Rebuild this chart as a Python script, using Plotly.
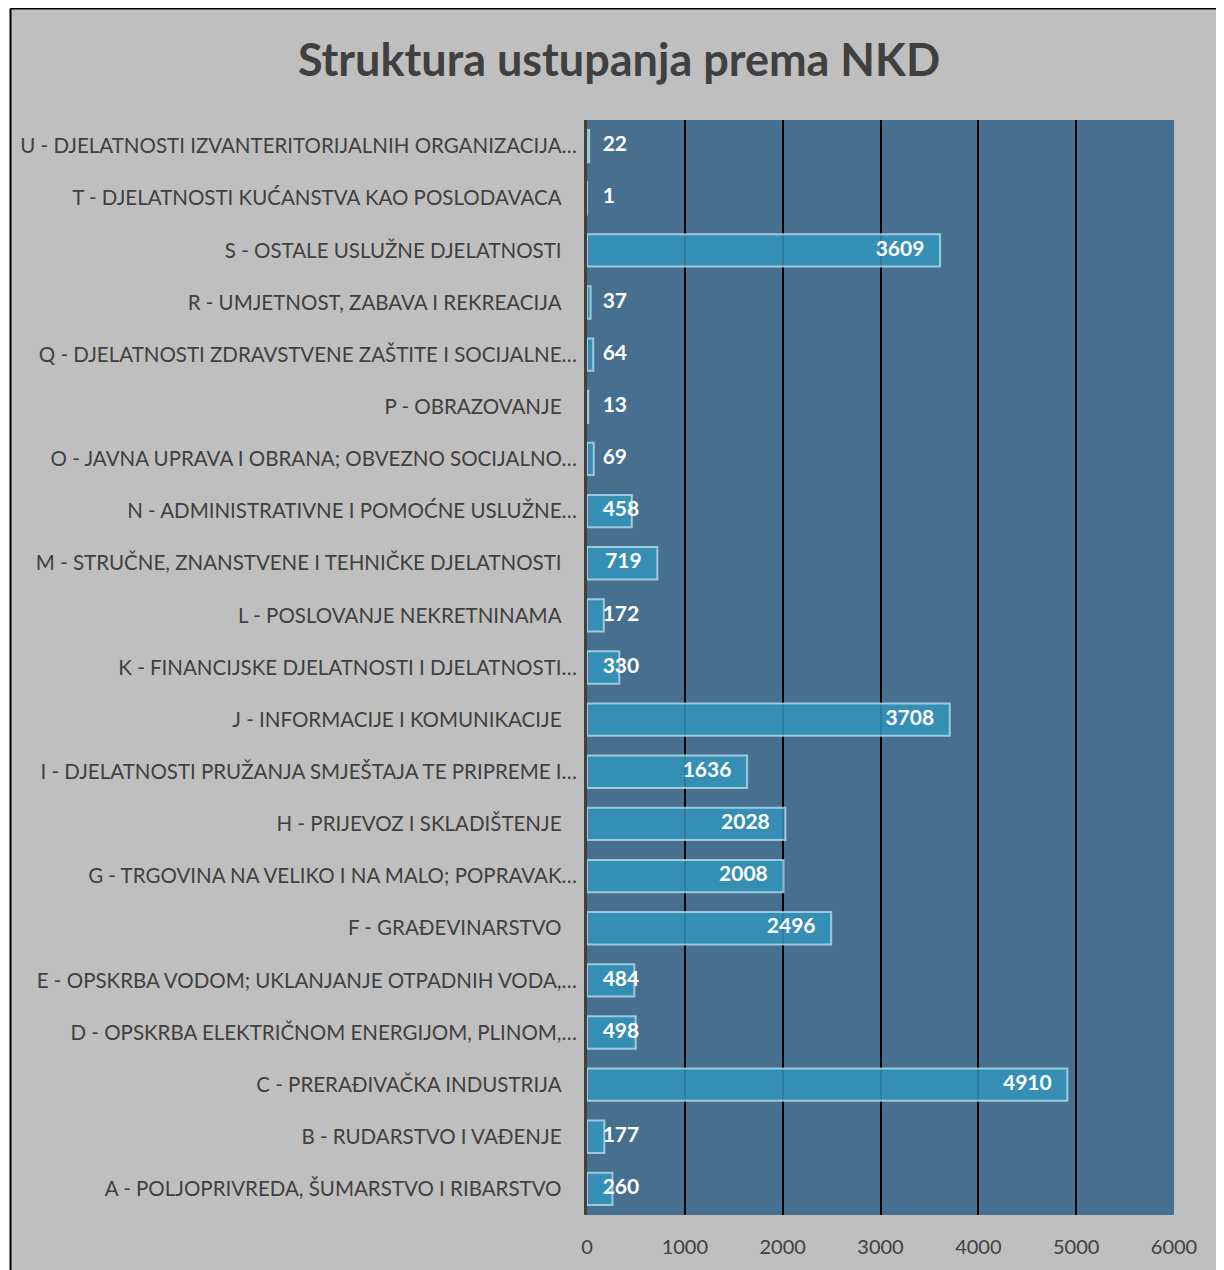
import plotly.graph_objects as go

categories = [
    "A - POLJOPRIVREDA, ŠUMARSTVO I RIBARSTVO",
    "B - RUDARSTVO I VAĐENJE",
    "C - PRERAĐIVAČKA INDUSTRIJA",
    "D - OPSKRBA ELEKTRIČNOM ENERGIJOM, PLINOM,…",
    "E - OPSKRBA VODOM; UKLANJANJE OTPADNIH VODA,…",
    "F - GRAĐEVINARSTVO",
    "G - TRGOVINA NA VELIKO I NA MALO; POPRAVAK…",
    "H - PRIJEVOZ I SKLADIŠTENJE",
    "I - DJELATNOSTI PRUŽANJA SMJEŠTAJA TE PRIPREME I…",
    "J - INFORMACIJE I KOMUNIKACIJE",
    "K - FINANCIJSKE DJELATNOSTI I DJELATNOSTI…",
    "L - POSLOVANJE NEKRETNINAMA",
    "M - STRUČNE, ZNANSTVENE I TEHNIČKE DJELATNOSTI",
    "N - ADMINISTRATIVNE I POMOĆNE USLUŽNE…",
    "O - JAVNA UPRAVA I OBRANA; OBVEZNO SOCIJALNO…",
    "P - OBRAZOVANJE",
    "Q - DJELATNOSTI ZDRAVSTVENE ZAŠTITE I SOCIJALNE…",
    "R - UMJETNOST, ZABAVA I REKREACIJA",
    "S - OSTALE USLUŽNE DJELATNOSTI",
    "T - DJELATNOSTI KUĆANSTVA KAO POSLODAVACA",
    "U - DJELATNOSTI IZVANTERITORIJALNIH ORGANIZACIJA…",
]
values = [260, 177, 4910, 498, 484, 2496, 2008, 2028, 1636, 3708,
          330, 172, 719, 458, 69, 13, 64, 37, 3609, 1, 22]
x_ticks = [0, 1000, 2000, 3000, 4000, 5000, 6000]
title_text = "Struktura ustupanja prema NKD"

FONT = "Lato"

# page body has an 8px margin; positions below are in figure pixels
OFF = 8
W, H = 1224 - OFF, 1270 - OFF
L, R_EDGE, T, B_EDGE = 587 - OFF, 1174 - OFF, 120 - OFF, 1215 - OFF
PW, PH = R_EDGE - L, B_EDGE - T

# tick text: Excel leaves a bit more room right of non-truncated labels
tick_text = [c if c.endswith("…") else c + "\u2002\u2005" for c in categories]

# label placement (Excel "inside end" look)
pad = 160
label_x = [v - pad if v >= 700 else pad for v in values]
label_pos = ["middle left" if v >= 700 else "middle right" for v in values]

fig = go.Figure()
fig.add_trace(go.Bar(
    y=categories, x=values, orientation="h", width=0.62,
    marker=dict(color="rgba(51,148,187,0.85)",
                line=dict(color="rgba(190,225,240,0.75)", width=2)),
    hoverinfo="x+y", showlegend=False,
))
fig.add_trace(go.Scatter(
    y=categories, x=label_x, mode="text",
    text=[str(v) for v in values], textposition=label_pos,
    textfont=dict(family=FONT, size=21, color="white", weight="bold"),
    showlegend=False, hoverinfo="skip", cliponaxis=False,
))

bx_px = 10 - OFF + 0.5
bx = (bx_px - L) / PW
by = (B_EDGE - 0.5) / PH

fig.update_layout(
    width=W, height=H,
    margin=dict(l=L, r=W - R_EDGE, t=T, b=H - B_EDGE, pad=0, autoexpand=False),
    paper_bgcolor="#BFBFBF",
    plot_bgcolor="#476F8F",
    title=dict(text=title_text, x=(619 - OFF) / W, xanchor="center",
               y=1 - (60 - OFF) / H, yanchor="middle",
               font=dict(family=FONT, size=45, color="#404040", weight="bold")),
    xaxis=dict(range=[0, 6000], tickvals=x_ticks, showgrid=True, automargin=False,
               gridcolor="black", gridwidth=2, zeroline=False,
               tickfont=dict(family=FONT, size=20, color="#404040"),
               ticklabelstandoff=18, showline=False),
    yaxis=dict(showgrid=False, showline=True, linecolor="#404040", linewidth=3,
               automargin=False, range=[-0.5, len(categories) - 0.5],
               tickmode="array", tickvals=categories, ticktext=tick_text,
               tickfont=dict(family=FONT, size=20.5, color="#404040"),
               ticklabelstandoff=3, categoryorder="array", categoryarray=categories),
    bargap=0.38,
    shapes=[
        dict(type="rect", xref="paper", yref="paper",
             x0=(0 - L) / PW, x1=bx, y0=-0.2, y1=1.2,
             fillcolor="white", line=dict(width=0), layer="above"),
        dict(type="line", xref="paper", yref="paper",
             x0=bx, x1=bx, y0=-0.2, y1=by,
             line=dict(color="black", width=2), layer="above"),
        dict(type="line", xref="paper", yref="paper",
             x0=bx, x1=1.3, y0=by, y1=by,
             line=dict(color="black", width=2), layer="above"),
    ],
)

fig.write_html("out.html")
